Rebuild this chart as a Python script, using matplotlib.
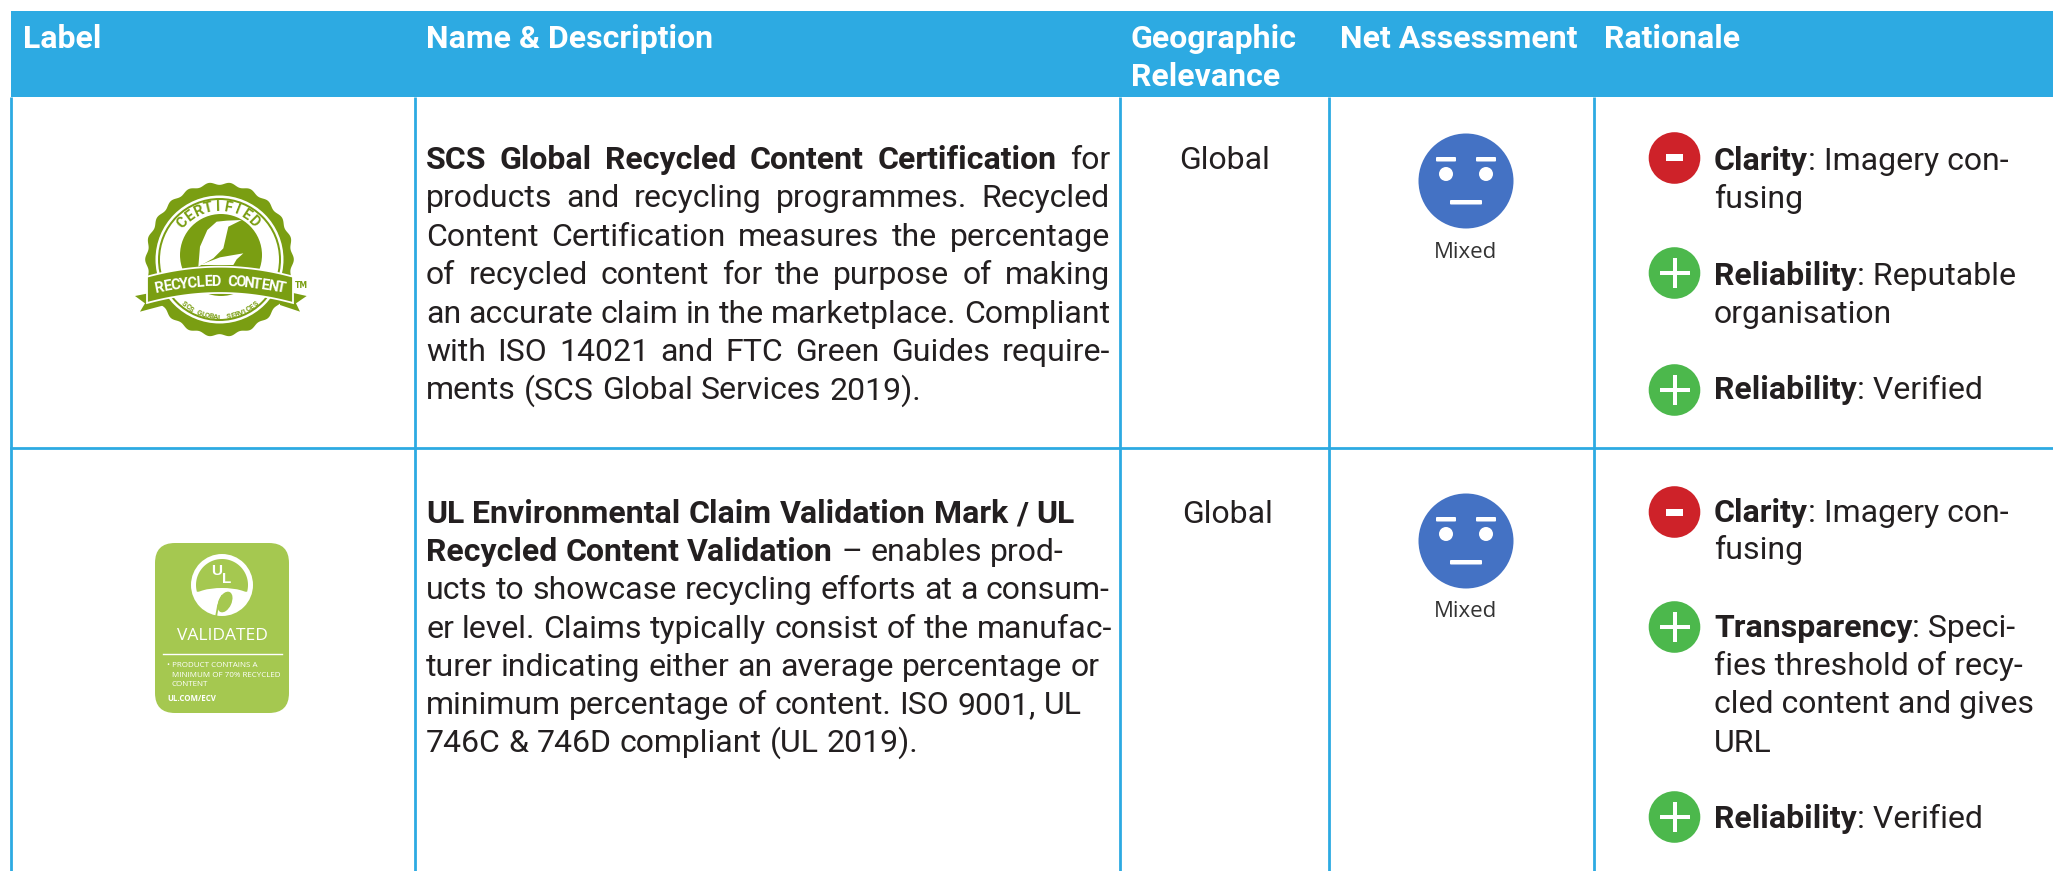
import numpy as np
import matplotlib
matplotlib.use("Agg")
import matplotlib.pyplot as plt
from matplotlib.patches import Rectangle, Circle, Ellipse, Polygon, FancyBboxPatch

W, H = 2053, 871
BLUE = "#2DAAE2"; INK = "#231F20"; SEAL = "#7A9E12"; UL = "#A5C850"; FACE = "#4472C4"
RED = "#CE2229"; GREEN = "#4CB84C"
FONT = "Roboto"; FS = 23

headers = [("Label", 23, 48), ("Name & Description", 426, 48), ("Geographic", 1131, 48),
           ("Relevance", 1131, 86), ("Net Assessment", 1340, 48), ("Rationale", 1604, 48)]
col_x = [11, 415, 1120, 1329, 1594]
row_y = 448

desc1 = [
    "**SCS **Global **Recycled **Content **Certification for",
    "products and recycling programmes. Recycled",
    "Content Certification measures the percentage",
    "of recycled content for the purpose of making",
    "an accurate claim in the marketplace. Compliant",
    "with ISO 14021 and FTC Green Guides require-",
]
desc1_last = "ments (SCS Global Services 2019)."
desc2 = [
    "**UL **Environmental **Claim **Validation **Mark **/ **UL",
    "**Recycled **Content **Validation – enables prod-",
    "ucts to showcase recycling efforts at a consum-",
    "er level. Claims typically consist of the manufac-",
    "turer indicating either an average percentage or",
    "minimum percentage of content. ISO 9001, UL",
    "746C & 746D compliant (UL 2019).",
]
rationale = [
    (158, "-", [(170, "**Clarity", ": Imagery con-"), (208, "", "fusing")]),
    (273, "+", [(285, "**Reliability", ": Reputable"), (323, "", "organisation")]),
    (390, "+", [(399, "**Reliability", ": Verified")]),
    (512, "-", [(522, "**Clarity", ": Imagery con-"), (559, "", "fusing")]),
    (627, "+", [(637, "**Transparency", ": Speci-"), (675, "", "fies threshold of recy-"),
                (713, "", "cled content and gives"), (752, "", "URL")]),
    (817, "+", [(828, "**Reliability", ": Verified")]),
]
geo = [("Global", 1225, 169), ("Global", 1228, 523)]
faces = [(1466, 181, 252), (1466, 541, 611)]

fig = plt.figure(figsize=(W / 100, H / 100), dpi=100)
ax = fig.add_axes([0, 0, 1, 1])
ax.set_xlim(0, W); ax.set_ylim(H, 0); ax.axis("off")
R = fig.canvas.get_renderer()


def width(s, weight):
    t = ax.text(0, 0, s, fontsize=FS, family=FONT, fontweight=weight)
    w = t.get_window_extent(R).width
    t.remove()
    return w


def line(s, x, y, right=None):
    words = s.split(" ")
    parsed = [(w[2:], "bold") if w.startswith("**") else (w, "normal") for w in words]
    ws = [width(w, b) for w, b in parsed]
    space = width("a a", "normal") - width("aa", "normal")
    if right is not None and len(words) > 1:
        space = (right - x - sum(ws)) / (len(words) - 1)
    for (w, b), wd in zip(parsed, ws):
        ax.text(x, y, w, fontsize=FS, family=FONT, fontweight=b, color=INK, va="baseline", ha="left")
        x += wd + space


ax.add_patch(Rectangle((11, 11), W - 11, 86, fc=BLUE, ec="none", zorder=1))
for x in col_x:
    ax.plot([x, x], [97, H], color=BLUE, lw=2, solid_capstyle="butt", zorder=1)
ax.plot([11, W], [row_y, row_y], color=BLUE, lw=2, zorder=1)
for s, x, y in headers:
    ax.text(x, y, s, color="white", fontsize=FS, family=FONT, fontweight="bold", va="baseline", zorder=3)

for i, s in enumerate(desc1):
    line(s, 426, 169 + 38.4 * i, right=1110)
line(desc1_last, 426, 169 + 38.4 * 6)
for i, s in enumerate(desc2):
    line(s, 426, 523 + 38.2 * i)
for s, x, y in geo:
    ax.text(x, y, s, ha="center", va="baseline", fontsize=FS, family=FONT, color=INK)

for cx, cy, ty in faces:
    ax.add_patch(Circle((cx, cy), 47.5, fc=FACE, ec="none"))
    for sx in (-1, 1):
        ax.add_patch(FancyBboxPatch((cx + sx * 20 - 9, cy - 23), 18, 2.5, boxstyle="round,pad=1", fc="white", ec="none"))
        ax.add_patch(Circle((cx + sx * 20, cy - 7), 7, fc="white", ec="none"))
    ax.add_patch(FancyBboxPatch((cx - 15, cy + 20), 30, 2.5, boxstyle="round,pad=1", fc="white", ec="none"))
    ax.text(cx, ty, "Mixed", ha="center", va="center", fontsize=16, family="Open Sans", color="#333333")

for cy, sign, rows in rationale:
    ax.add_patch(Circle((1674.5, cy), 25.8, fc=RED if sign == "-" else GREEN, ec="none"))
    if sign == "-":
        ax.add_patch(Rectangle((1666, cy - 3.5), 17, 7, fc="white", ec="none"))
    else:
        ax.add_patch(Rectangle((1672.5, cy - 15), 4, 30, fc="white", ec="none"))
        ax.add_patch(Rectangle((1659.5, cy - 2), 30, 4, fc="white", ec="none"))
    for y, b, rest in rows:
        x = 1714
        if b:
            name = b[2:]
            ax.text(x, y, name, fontsize=FS, family=FONT, fontweight="bold", color=INK, va="baseline")
            x += width(name, "bold")
        ax.text(x, y, rest, fontsize=FS, family=FONT, color=INK, va="baseline")


def arc_text(s, cx, cy, r, a0, a1, fs, color, bottom=False, z=8):
    for ch, a in zip(s, np.linspace(a0, a1, len(s))):
        rad = np.radians(a)
        x, y = cx + r * np.cos(rad), cy - r * np.sin(rad)
        rot = a - 90 if not bottom else a + 90
        ax.text(x, y, ch, fontsize=fs, color=color, family="Roboto", fontweight="bold",
                rotation=rot, rotation_mode="anchor", ha="center", va="center", zorder=z)


def z(pts):
    return [(px / 3 + 120, py / 3 + 170) for px, py in pts]


# SCS seal
cx, cy = 219.5, 259.5
th = np.linspace(0, 2 * np.pi, 600)
scal = 1 + 0.018 * np.cos(22 * th)
ax.add_patch(Polygon(np.c_[cx + 73 * scal * np.cos(th), cy + 76 * scal * np.sin(th)], fc=SEAL, ec="none", zorder=3))
ax.add_patch(Circle((cx, cy), 64, fc="white", ec="none", zorder=4))
ax.add_patch(Circle((cx, cy), 61.5, fc=SEAL, ec="none", zorder=4))
ax.add_patch(Circle((cx, cy), 59.5, fc="white", ec="none", zorder=4))
ax.add_patch(Circle((221, 255), 41, fc=SEAL, ec="none", zorder=5))
arc_text("CERTIFIED", 219, 256, 49, 138, 45, 10.5, SEAL, z=6)
ax.add_patch(Polygon(z([(235, 290), (240, 230), (262, 180), (290, 155), (320, 152), (365, 150), (325, 170),
                        (318, 200), (310, 235), (280, 265)]), fc="white", ec="none", zorder=6))
ax.add_patch(Polygon(z([(240, 285), (300, 262), (370, 250), (350, 268), (340, 285)]), fc="white", ec="none", zorder=6))
# ribbon tails
ax.add_patch(Polygon(z([(45, 378), (135, 360), (135, 405), (60, 425), (75, 400)]), fc=SEAL, ec="none", zorder=6))
ax.add_patch(Polygon(z([(560, 378), (480, 360), (480, 405), (540, 425), (528, 400)]), fc=SEAL, ec="none", zorder=6))
# banner
xs = np.linspace(-73, 73, 40)
sag = 10 * (xs / 73) ** 2
top = np.c_[220 + xs, 266.7 + sag]
bot = np.c_[220 + xs[::-1], 293 + sag[::-1]]
ax.add_patch(Polygon(np.r_[top, bot], fc=SEAL, ec="white", lw=1.3, zorder=7))
arc_text("RECYCLED CONTENT", 220, 282 + 320, 320, 101, 79, 10.5, "white")
arc_text("SCS GLOBAL SERVICES", 220, 263, 54, -131, -49, 5.5, SEAL, bottom=True, z=6)
ax.text(301, 285, "TM", fontsize=5.5, color=SEAL, ha="center", va="center", fontweight="bold", zorder=8)

# UL mark
ax.add_patch(FancyBboxPatch((155, 543), 134, 170, boxstyle="round,pad=0,rounding_size=20", fc=UL, ec="none", zorder=3))
ax.add_patch(Circle((222, 585), 31, fc="white", ec="none", zorder=4))
a = np.radians(np.linspace(165, 375, 80))
dome = np.c_[222 + 26 * np.cos(a), 585 + 26 * np.sin(a)]
dome[:, 1] = np.minimum(dome[:, 1], 592)
ax.add_patch(Polygon(dome, fc=UL, ec="none", zorder=5))
ax.add_patch(Ellipse((222, 596), 54, 16, fc="white", ec="none", zorder=5))
ax.text(217, 571, "U", fontsize=11, color="white", ha="center", va="center", family="Liberation Sans", fontweight="bold", zorder=7)
ax.text(227, 579, "L", fontsize=11, color="white", ha="center", va="center", family="Liberation Sans", fontweight="bold", zorder=7)
ax.add_patch(Ellipse((225, 602), 13, 22, angle=25, fc=UL, ec="none", zorder=7))
ax.plot([216, 218, 222], [617, 606, 596], color=UL, lw=1.3, zorder=7)
ax.text(222, 636, "VALIDATED", fontsize=12.5, color="white", ha="center", va="center", family="Open Sans", zorder=7)
ax.plot([163, 282], [654, 654], color="white", lw=1, zorder=7)
for s, x, y in [("• PRODUCT CONTAINS A", 167, 665), ("MINIMUM OF 70% RECYCLED", 172, 675),
                ("CONTENT", 172, 684)]:
    ax.text(x, y, s, fontsize=5.8, color="white", va="center", family="Open Sans", zorder=7)
ax.text(167, 698, "UL.COM/ECV", fontsize=5.7, color="white", va="center", family="Open Sans", fontweight="bold", zorder=7)

fig.savefig("out.png", dpi=100, facecolor="white")
